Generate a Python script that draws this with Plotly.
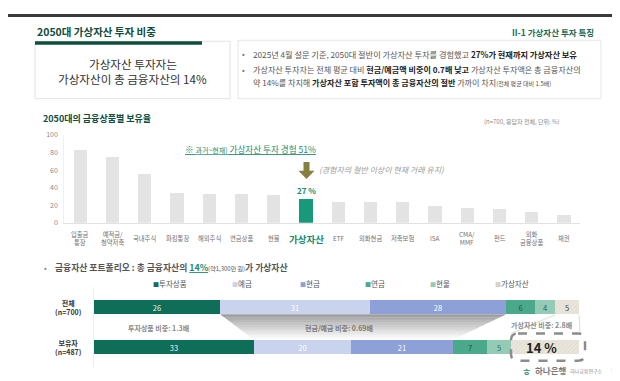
import plotly.graph_objects as go

# ---------------- data ----------------
categories = ["입출금 통장", "예적금/청약저축", "국내주식", "파킹통장", "해외주식", "연금상품", "현물",
              "가상자산", "ETF", "외화현금", "저축보험", "ISA", "CMA/MMF", "펀드", "외화 금융상품", "채권"]
category_labels = ["입출금<br>통장", "예적금/<br>청약저축", "국내주식", "파킹통장", "해외주식", "연금상품", "현물",
                   "가상자산", "ETF", "외화현금", "저축보험", "ISA", "CMA/<br>MMF", "펀드", "외화<br>금융상품", "채권"]
holding_rates = [83, 75, 56, 34, 33, 33, 32, 27, 24, 24, 23, 19, 17, 16, 12, 9]
highlight = "가상자산"
y_ticks = [0, 20, 40, 60, 80, 100]

segments = ["투자상품", "예금", "현금", "연금", "현물", "가상자산"]
total_shares = [26, 31, 28, 6, 4, 5]      # 전체 (n=700)
holder_shares = [33, 20, 21, 7, 5, 14]    # 보유자 (n=487)
group_labels = ["<b>전체</b><br><b>(n=700)</b>", "<b>보유자</b><br><b>(n=487)</b>"]

# ---------------- style ----------------
W, H = 620, 381
FONT = "Noto Sans CJK KR"
GREEN_DARK = "#0f4d3d"
GREEN_HI = "#17997a"
GREEN_TXT = "#1a8a6a"
seg_colors = ["#0f6e57", "#c9d3ed", "#8da0d8", "#4aa98a", "#94cbb7", "#ebe7dd"]
total_txt_colors = ["#e8f3ef", "#ffffff", "#ffffff", "#1d5c4a", "#2f5f52", "#444444"]
holder_txt_colors = ["#e8f3ef", "#ffffff", "#ffffff", "#1d5c4a", "#2f6f5a", "#222222"]


def px(x):
    return x / W


def py(y):
    return 1 - y / H


fig = go.Figure()

# ---- chart 1 : holding rates ----
bar_colors = [GREEN_HI if c == highlight else "#e3e3e3" for c in categories]
fig.add_trace(go.Bar(x=categories, y=holding_rates, marker=dict(color=bar_colors, line=dict(width=0)),
                     width=0.41, xaxis="x", yaxis="y", showlegend=False, hoverinfo="skip"))

# ---- chart 2 : portfolio stacked bars ----
for i, seg in enumerate(segments):
    is_va = seg == "가상자산"
    marker = dict(color=seg_colors[i], line=dict(width=0))
    if is_va:
        marker["pattern"] = dict(shape="/", fgcolor="#d3cec0", bgcolor="#ebe7dd", size=3, solidity=0.35)
    texts = [str(total_shares[i]), "" if is_va else str(holder_shares[i])]
    fig.add_trace(go.Bar(
        x=[total_shares[i], holder_shares[i]], y=[1, 0], orientation="h",
        xaxis="x2", yaxis="y2", width=0.36, marker=marker, showlegend=False, hoverinfo="skip",
        text=texts, textposition="inside", insidetextanchor="middle", constraintext="none", textangle=0,
        textfont=dict(family=FONT, size=7.5, color=[total_txt_colors[i], holder_txt_colors[i]]),
    ))

shapes = []
ann = []

# gradient connector between 예금+현금 of the two bars (stacked bands)
lt, rt = total_shares[0], sum(total_shares[:3])
lb, rb = holder_shares[0], sum(holder_shares[:3])
yt, yb = 0.82, 0.18
N = 16
for k in range(N):
    t0, t1 = k / N, (k + 1) / N
    ya, yb2 = yt - (yt - yb) * t0, yt - (yt - yb) * t1
    xla, xlb = lt + (lb - lt) * t0, lt + (lb - lt) * t1
    xra, xrb = rt + (rb - rt) * t0, rt + (rb - rt) * t1
    op = 0.75 * (1 - (k + 0.5) / N) ** 1.1
    shapes.append(dict(type="path", xref="x2", yref="y2", layer="above",
                       path="M %f,%f L %f,%f L %f,%f L %f,%f Z" % (xla, ya, xra, ya, xrb, yb2, xlb, yb2),
                       fillcolor="rgba(120,120,120,%.3f)" % op, line=dict(width=0)))


def text(x, y, s, size, color="#555", xanchor="center", yanchor="middle", **kw):
    ann.append(dict(x=px(x), y=py(y), xref="paper", yref="paper", text=s, showarrow=False,
                    xanchor=xanchor, yanchor=yanchor,
                    font=dict(family=FONT, size=size, color=color), **kw))


# ---- page header ----
shapes.append(dict(type="rect", xref="paper", yref="paper", x0=0, x1=1, y0=py(3), y1=1,
                   fillcolor="#3a3a3a", line=dict(width=0)))
text(27, 18, "<b>2050대 가상자산 투자 비중</b>", 10.5, GREEN_DARK, xanchor="left")
text(588, 18, "<b>II-1 가상자산 투자 특징</b>", 8.5, "#1e6b55", xanchor="right")

# left summary box
shapes.append(dict(type="rect", xref="paper", yref="paper", x0=px(27), x1=px(222), y0=py(87), y1=py(28),
                   fillcolor="white", line=dict(color="#e2e2e2", width=1)))
shapes.append(dict(type="rect", xref="paper", yref="paper", x0=px(27), x1=px(194), y0=py(31.5), y1=py(28),
                   fillcolor="#0f4d3d", line=dict(width=0)))
text(124.5, 51, "가상자산 투자자는", 11.6, "#333")
text(124.5, 67, "가상자산이 총 금융자산의 14%", 11.6, "#333")

# right bullet box
shapes.append(dict(type="rect", xref="paper", yref="paper", x0=px(230), x1=px(593), y0=py(87), y1=py(27),
                   fillcolor="white", line=dict(color="#e6e6e6", width=1)))
text(236, 41, "•", 8, "#777")
text(243, 41, "2025년 4월 설문 기준, 2050대 절반이 가상자산 투자를 경험했고 "
              "<b><span style='color:#222'>27%가 현재까지 가상자산 보유</span></b>", 8.2, "#555", xanchor="left")
text(236, 57, "•", 8, "#777")
text(243, 57, "가상자산 투자자는 전체 평균 대비 <b><span style='color:#222'>현금/예금액 비중이 0.7배 낮고</span></b>"
              " 가상자산 투자액은 총 금융자산의", 8.1, "#555", xanchor="left")
text(243, 70, "약 14%를 차지해 <b><span style='color:#222'>가상자산 포함 투자액이 총 금융자산의 절반</span></b>"
              " 가까이 차지<span style='font-size:6px'>(전체 평균 대비 1.5배)</span>", 8.1, "#555", xanchor="left")

# ---- chart 1 annotations ----
text(33, 107, "<b>2050대의 금융상품별 보유율</b>", 9, GREEN_DARK, xanchor="left")
text(554, 110, "(n=700, 응답자 전체, 단위: %)", 6, "#8a8a8a", xanchor="right")
for c, lab in zip(categories, category_labels):
    if c == highlight:
        ann.append(dict(x=c, y=py(231), xref="x", yref="paper", text="<b>" + lab + "</b>", showarrow=False,
                        xanchor="center", yanchor="middle", font=dict(family=FONT, size=9.5, color=GREEN_TXT)))
    else:
        ann.append(dict(x=c, y=py(230.5), xref="x", yref="paper", text=lab, showarrow=False,
                        xanchor="center", yanchor="middle", font=dict(family=FONT, size=6.3, color="#6f6f6f")))

text(243, 139, "<span style='text-decoration:underline'>※ <span style='font-size:7px'>과거~현재)</span> "
               "가상자산 투자 경험 51%</span>", 8.6, GREEN_TXT)
# down arrow
hi_idx = categories.index(highlight)
ann.append(dict(x=highlight, y=py(181), xref="x", yref="paper", text="<b>%d %%</b>" % holding_rates[hi_idx],
                showarrow=False, font=dict(family=FONT, size=8, color=GREEN_TXT)))
ax0 = 298.5
arrow = [(ax0 - 3, 152), (ax0 + 3, 152), (ax0 + 3, 161), (ax0 + 8, 161), (ax0, 169.5), (ax0 - 8, 161), (ax0 - 3, 161)]
shapes.append(dict(type="path", xref="paper", yref="paper",
                   path="M " + " L ".join("%f,%f" % (px(a), py(b)) for a, b in arrow) + " Z",
                   fillcolor="#857f3f", line=dict(width=0)))
text(309, 160, "<i>(경험자의 절반 이상이 현재 거래 유지)</i>", 8, "#9a9a9a", xanchor="left")

# ---- chart 2 annotations ----
text(37, 260, "•", 8, "#888")
text(45, 260, "<b>금융자산 포트폴리오 : 총 금융자산의 "
              "<span style='color:#1a8a6a;text-decoration:underline'>14%</span></b>"
              "<span style='font-size:6px'>(약1,300만 원)</span><b>가 가상자산</b>", 8.8, "#555", xanchor="left")

leg_x = [143, 222, 290, 355, 420, 485]
for x0, seg, col in zip(leg_x, segments, seg_colors):
    sq = "#d6d2c6" if seg == "가상자산" else col
    text(x0, 277, "<span style='color:%s;font-size:6px'>■</span>%s" % (sq, seg), 7.5, "#555", xanchor="left")

text(60, 301.5, group_labels[0], 7, "#333")
text(60, 342.5, group_labels[1], 7, "#333")

text(150, 322, "<b>투자상품 비중: 1.3배</b>", 7, "#8a8a8a")
text(331, 322, "<b>현금/예금 비중: 0.69배</b>", 7, "#7a7a7a")
text(533, 319, "<b>가상자산 비중: 2.8배</b>", 7, "#8a8a8a")

shapes.append(dict(type="line", xref="paper", yref="paper", x0=px(547), y0=py(309), x1=px(503), y1=py(328),
                   line=dict(color="#dddddd", width=1)))
shapes.append(dict(type="line", xref="paper", yref="paper", x0=px(571), y0=py(309), x1=px(572), y1=py(328),
                   line=dict(color="#dddddd", width=1)))

# dashed rounded box around 14 %
bx0, bx1, by0, by1, r = 503, 577, 328, 356, 7
pts = ("M {a},{b} L {c},{b} Q {d},{b} {d},{e} L {d},{f} Q {d},{g} {c},{g} L {a},{g} "
       "Q {h},{g} {h},{f} L {h},{e} Q {h},{b} {a},{b} Z").format(
    a=px(bx0 + r), b=py(by0), c=px(bx1 - r), d=px(bx1), e=py(by0 + r), f=py(by1 - r), g=py(by1), h=px(bx0))
shapes.append(dict(type="path", xref="paper", yref="paper", path=pts, fillcolor="rgba(0,0,0,0)",
                   line=dict(color="#8c8c8c", width=2.5, dash="dash")))
text(533, 342, "<b>%d %%</b>" % holder_shares[-1], 13, "#222")

# ---- footer ----
shapes.append(dict(type="rect", xref="paper", yref="paper", x0=0, x1=1, y0=0, y1=py(377),
                   fillcolor="#ededed", line=dict(width=0)))
text(518, 367, "<b>ㅎ</b>", 10, "#4a9a7a")
text(525, 366, "<b>하나은행</b>", 8.5, "#7a7a7a", xanchor="left")
text(560, 367, "하나금융연구소", 5, "#8a8a8a", xanchor="left")
shapes.append(dict(type="circle", xref="paper", yref="paper", x0=px(603), x1=px(613), y0=py(371), y1=py(361),
                   fillcolor="#eeeeee", line=dict(width=0)))
text(608, 366, "13", 4, "#777")

fig.update_layout(
    width=W, height=H, margin=dict(l=0, r=0, t=0, b=0),
    paper_bgcolor="white", plot_bgcolor="rgba(0,0,0,0)",
    barmode="stack", bargap=0,
    font=dict(family=FONT),
    xaxis=dict(domain=[px(56.2), px(572.3)], type="category", showticklabels=False, ticks="",
               showline=True, linecolor="#e2e2e2", linewidth=1, showgrid=False, zeroline=False, anchor="y"),
    yaxis=dict(domain=[py(214.3), py(124.3)], range=[0, 100], tickvals=y_ticks, ticks="",
               tickfont=dict(family=FONT, size=7, color="#8a8a8a"), showgrid=False, zeroline=False,
               showline=True, linecolor="#efefef", anchor="x", ticklabelstandoff=4),
    xaxis2=dict(domain=[px(86), px(571)], range=[0, 100], visible=False, anchor="y2"),
    yaxis2=dict(domain=[py(362.5), py(280.5)], range=[-0.5, 1.5], showticklabels=False, ticks="",
                showgrid=False, zeroline=False, showline=True, linecolor="#eeeeee", anchor="x2"),
    shapes=shapes, annotations=ann,
)

fig.write_html("out.html")
